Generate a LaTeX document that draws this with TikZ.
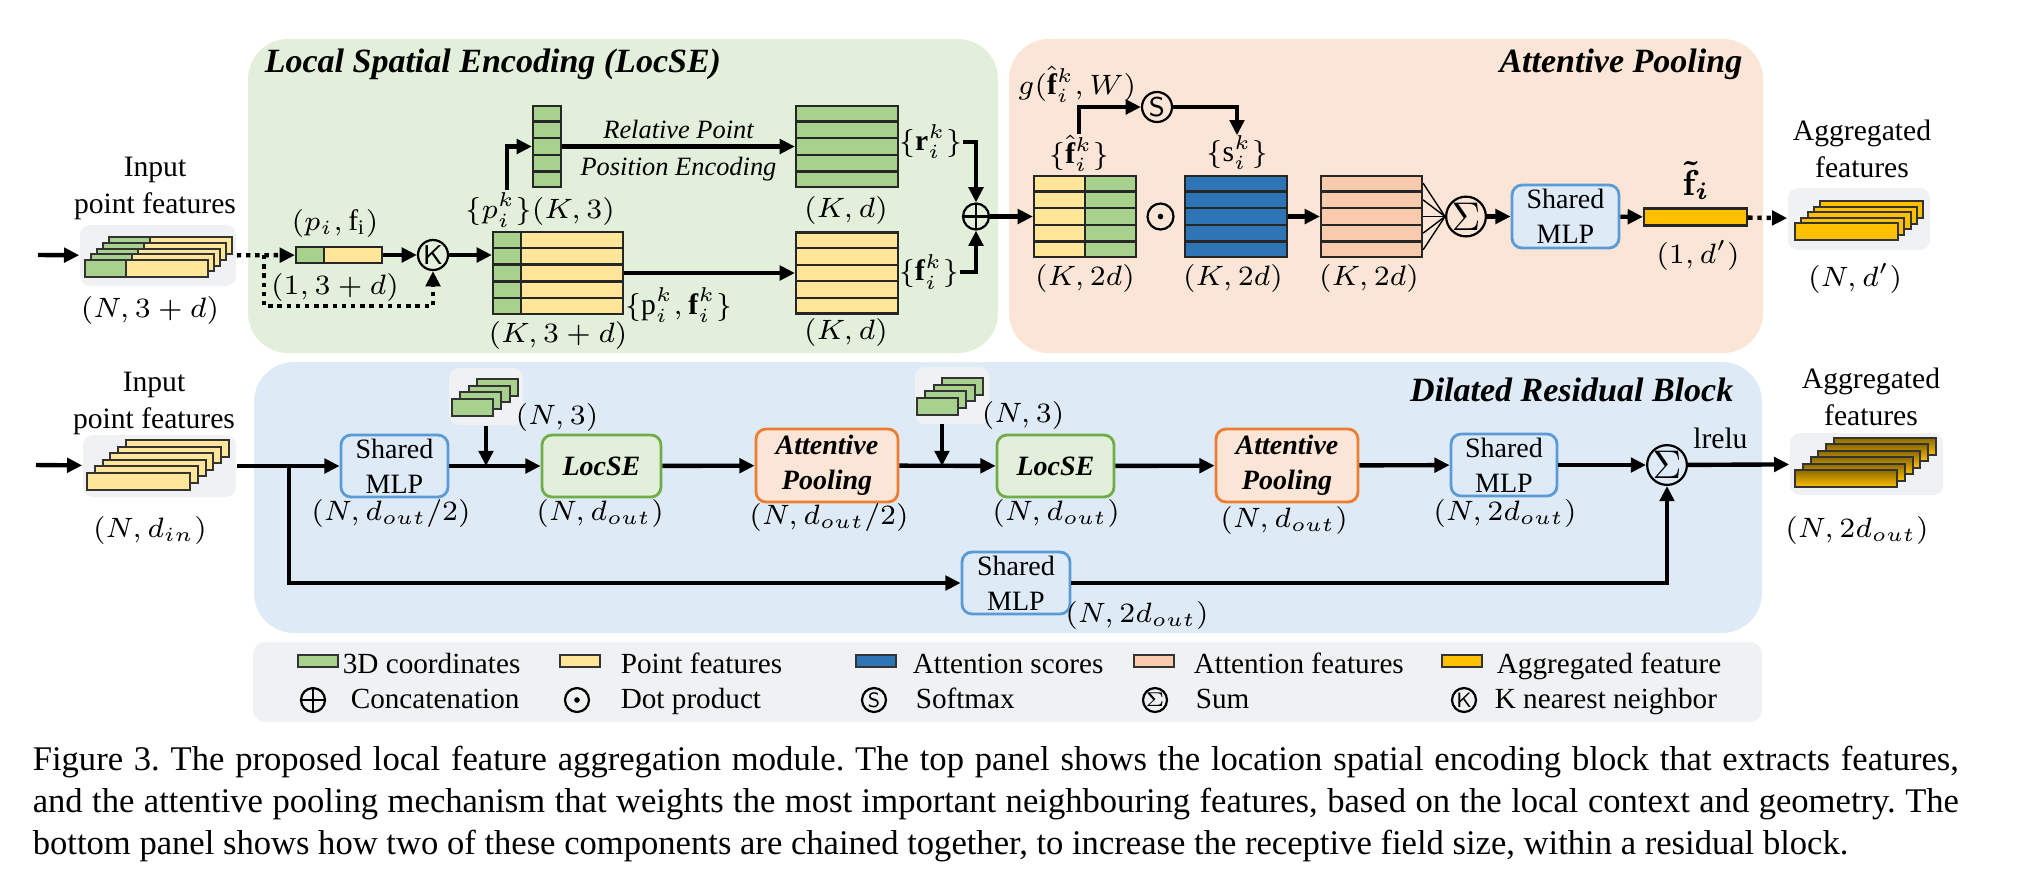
\documentclass[tikz,border=0pt]{standalone}
\usepackage{fontspec}
\setmainfont{Liberation Serif}
\usetikzlibrary{arrows.meta,calc}

\definecolor{crdgreen}{HTML}{A9D18E}
\definecolor{ptyellow}{HTML}{FFE699}
\definecolor{scoreblue}{HTML}{2E75B6}
\definecolor{attsalmon}{HTML}{F8CBAD}
\definecolor{agggold}{HTML}{FFC000}
\definecolor{lsebg}{HTML}{E2EFDA}
\definecolor{apbg}{HTML}{FBE5D6}
\definecolor{drbbg}{HTML}{DEEBF7}
\definecolor{greybg}{HTML}{F0F1F2}
\definecolor{mlpedge}{HTML}{5B9BD5}
\definecolor{lseedge}{HTML}{70AD47}
\definecolor{apedge}{HTML}{ED7D31}

\newcommand\lblfont{\fontsize{7.4}{9.25}\selectfont}
\newcommand\itlfont{\fontsize{6.6}{8}\selectfont\itshape}
\newcommand\boxfont{\fontsize{7}{8.75}\selectfont}
\newcommand\ttlfont{\fontsize{8.5}{10}\selectfont\bfseries\itshape}
\newcommand\legfont{\fontsize{7.3}{8}\selectfont}
\newcommand\capfont{\fontsize{8.65}{10.6}\selectfont\frenchspacing}
\newcommand\rowlines[1]{%
  \foreach \r in {1,...,4}
    \draw[rowline] ($(#1.north west)!\r/5!(#1.south west)$) -- ($(#1.north east)!\r/5!(#1.south east)$);}

\tikzset{
  wd/.style={minimum width=#1*0.25pt},
  ht/.style={minimum height=#1*0.25pt},
  panel/.style={rounded corners=10pt, inner sep=0pt},
  stackbg/.style={fill=greybg, rounded corners=2.5pt, inner sep=0pt},
  barline/.style={draw=black!80, line width=0.5pt},
  tbl/.style={draw=black!85, line width=0.55pt, inner sep=0pt},
  rowline/.style={draw=black!85, line width=0.55pt},
  lbl/.style={font=\lblfont, inner sep=0pt},
  ttl/.style={font=\ttlfont, inner sep=0pt},
  flow/.style={line width=1.1pt, -{Triangle[length=3.8pt,width=3.6pt]}},
  dotflow/.style={flow, dash pattern=on 1.1pt off 1.2pt},
  opc/.style={circle, draw, line width=0.55pt, inner sep=0pt, minimum size=7.5pt},
  plus/.style={opc, minimum size=6.5pt, path picture={\draw[line width=0.55pt]
    (path picture bounding box.north) -- (path picture bounding box.south)
    (path picture bounding box.west) -- (path picture bounding box.east);}},
  dotc/.style={opc, minimum size=6.5pt, path picture={\fill (path picture bounding box.center) circle (0.7pt);}},
  box/.style={draw=#1, line width=0.7pt, rounded corners=2.5pt, align=center, inner sep=0pt, font=\boxfont},
  mlp/.style={box=mlpedge, fill=drbbg},
  lse/.style={box=lseedge, fill=lsebg, font=\boxfont\bfseries\itshape},
  apl/.style={box=apedge, fill=apbg, font=\boxfont\bfseries\itshape},
  swatch/.style={draw=black!80, line width=0.5pt, inner sep=0pt, wd=40, ht=12},
  legtxt/.style={font=\legfont, inner sep=0pt, anchor=base west},
}

\begin{document}
\begin{tikzpicture}[x=0.25pt, y=-0.25pt]
\useasboundingbox (0,0) rectangle (2022,893);

% panels
\node[panel, fill=lsebg, wd=750, ht=314] (pse) at (623,196) {};
\node[panel, fill=apbg, wd=754, ht=314] (pap) at (1386,196) {};
\node[panel, fill=drbbg, wd=1508, ht=271] (pdrb) at (1008,497.5) {};
\node[panel, fill=greybg, rounded corners=3pt, wd=1509, ht=80] (leg) at (1007.5,682) {};
\node[ttl, anchor=base west] (tse) at (264,72) {Local Spatial Encoding (LocSE)};
\node[ttl, anchor=base east] (tap) at (1743,72) {Attentive Pooling};
\node[ttl, anchor=base east] (tdrb) at (1734,401) {Dilated Residual Block};

% ---- top: LocSE ----
\coordinate (in1) at (38,255);
\node[stackbg, wd=156, ht=61] (stk1) at (158,255.5) {};
\foreach \i in {0,...,4}{
  \draw[barline, fill=ptyellow] (109-6*\i,237+5.75*\i) rectangle ++(123,17);
  \draw[barline, fill=crdgreen] (109-6*\i,237+5.75*\i) rectangle ++(41,17);
}
\node[lbl, align=center] (l-in1) at (155,188.5) {Input\\point features};
\node[lbl] (l-n3d) at (150,310) {$(N,3+d)$};
\draw[flow] (in1) -- (stk1);

\node[tbl, fill=ptyellow, wd=86, ht=16] (pf) at (339,255) {};
\node[tbl, fill=crdgreen, wd=28, ht=16, anchor=west] (pfc) at (pf.west) {};
\node[lbl] (l-pf) at (335,223) {$(p_i,\mathrm{f}_\mathrm{i})$};
\node[lbl] (l-13d) at (335,287) {$(1,3+d)$};
\draw[dotflow] (stk1) -- (pf);
\node[opc, font=\sffamily\fontsize{6.8}{7}\selectfont] (knn) at (433,255) {K};
\draw[flow] (pf) -- (knn);
\coordinate (dsplit) at (264,255);
\draw[dotflow] (dsplit) -- ++(0,51) -| (knn);

\node[tbl, fill=ptyellow, wd=130, ht=82] (kt) at (558,273) {};
\node[tbl, fill=crdgreen, wd=28, ht=82, anchor=west] (ktc) at (kt.west) {};
\rowlines{kt}
\draw[flow] (knn) -- (knn -| kt.west);
\node[lbl] (l-k3d) at (558,335) {$(K,3+d)$};
\node[lbl, anchor=west] (l-pfk) at (624,305) {$\{\mathrm{p}_i^k,\mathbf{f}_i^k\}$};

\node[tbl, fill=crdgreen, wd=28, ht=81] (kp) at (547,146.5) {};
\rowlines{kp}
\node[lbl] (l-pk) at (540,210) {$\{p_i^k\}(K,3)$};
\coordinate (pkfoot) at (507,190);
\draw[flow] (pkfoot) |- (kp);

\node[tbl, fill=crdgreen, wd=102, ht=81] (kr) at (847,146.5) {};
\rowlines{kr}
\draw[flow] (kp) -- node[lbl, font=\itlfont, above=1.5pt] {Relative Point}
  node[lbl, font=\itlfont, below=2pt] {Position Encoding} (kr);
\node[tbl, fill=ptyellow, wd=102, ht=81] (kf) at (847,273) {};
\rowlines{kf}
\draw[flow] (kt) -- (kf);
\node[lbl] (l-kd1) at (846,210) {$(K,d)$};
\node[lbl] (l-kd2) at (846,332) {$(K,d)$};
\node[lbl, anchor=west] (l-rk) at (898,142) {$\{\mathbf{r}_i^k\}$};
\node[lbl, anchor=west] (l-fk) at (898,272) {$\{\mathbf{f}_i^k\}$};
\node[plus] (cat) at (976,216.5) {};
\draw[flow] (l-rk) -| (cat);
\draw[flow] (l-fk) -| (cat);

% ---- top: attentive pooling ----
\node[tbl, fill=ptyellow, wd=102, ht=81] (fh) at (1085,216.5) {};
\node[tbl, fill=crdgreen, wd=51, ht=81, anchor=east] (fhc) at (fh.east) {};
\rowlines{fh}
\draw[flow] (cat) -- (fh);
\node[lbl] (l-fh) at (1079,153) {$\{\hat{\mathbf{f}}_i^k\}$};
\node[lbl] (l-k2d1) at (1085,278) {$(K,2d)$};
\node[opc, font=\sffamily\fontsize{6.8}{7}\selectfont] (smax) at (1157,107) {S};
\node[lbl, anchor=east] (l-g) at (1137,84) {$g(\hat{\mathbf{f}}_i^k,W)$};
\draw[flow] (l-fh) |- (smax);
\node[lbl] (l-sk) at (1237,153) {$\{\mathrm{s}_i^k\}$};
\draw[flow] (smax) -| (l-sk);
\node[dotc] (dprod) at (1160.5,216.5) {};
\node[tbl, fill=scoreblue, wd=102, ht=81] (sc) at (1236,216.5) {};
\rowlines{sc}
\node[lbl] (l-k2d2) at (1233,278) {$(K,2d)$};
\node[tbl, fill=attsalmon, wd=101, ht=81] (af) at (1371.5,216.5) {};
\rowlines{af}
\node[lbl] (l-k2d3) at (1369,278) {$(K,2d)$};
\draw[flow] (sc) -- (af);
\node[opc] (sum1) at (1466,216.5) {$\Sigma$};
\foreach \r in {1,...,5}
  \draw[line width=0.35pt] ($(af.north east)!{(\r-0.5)/5}!(af.south east)$) -- (sum1.west);
\node[mlp, wd=107, ht=63] (mlpt) at (1565.5,216.5) {Shared\\MLP};
\draw[flow] (sum1) -- (mlpt);
\node[tbl, fill=agggold, wd=103, ht=17] (fout) at (1695.5,217) {};
\draw[flow] (mlpt) -- (fout);
\node[lbl, font=\fontsize{9}{10}\selectfont\boldmath] (l-ft) at (1696,180) {$\tilde{\mathbf{f}}_i$};
\node[lbl] (l-1d) at (1698,255) {$(1,d')$};
\node[stackbg, wd=142, ht=62] (stko) at (1859,219) {};
\foreach \i in {0,...,4}
  \draw[barline, fill=agggold] (1820-6.25*\i,201+5.5*\i) rectangle ++(103,17);
\draw[dotflow] (fout) -- (stko);
\node[lbl, align=center] (l-agg1) at (1862,149) {Aggregated\\features};
\node[lbl] (l-nd) at (1855,278) {$(N,d')$};

% ---- bottom: dilated residual block ----
\coordinate (in2) at (36,465);
\node[stackbg, wd=153, ht=62] (stk2) at (159.5,466) {};
\foreach \i in {0,...,5}
  \draw[barline, fill=ptyellow] (126-7.8*\i,440+6.6*\i) rectangle ++(103,16.5);
\node[lbl, align=center] (l-in2) at (154,403.5) {Input\\point features};
\node[lbl] (l-din) at (150,530) {$(N,d_{in})$};
\draw[flow] (in2) -- (stk2);

\node[mlp, wd=107, ht=62] (mlp1) at (394.5,466) {Shared\\MLP};
\draw[flow] (stk2) -- (mlp1);
\node[lbl] (l-m1) at (391,513) {$(N,d_{out}/2)$};
\node[stackbg, wd=74, ht=57] (crd1) at (486,396.5) {};
\foreach \i in {0,...,3}
  \draw[barline, fill=crdgreen] (477-8.3*\i,379+6.7*\i) rectangle ++(41,16.5);
\node[lbl] (l-c1) at (557,417) {$(N,3)$};
\node[lse, wd=119, ht=62] (lse1) at (601.5,466) {LocSE};
\draw[flow] (mlp1) -- (lse1);
\draw[flow] (crd1) -- (crd1 |- lse1.west);
\node[lbl] (l-s1) at (600,513) {$(N,d_{out})$};
\node[apl, wd=142, ht=73] (ap1) at (827,465.5) {Attentive\\Pooling};
\draw[flow] (lse1) -- (ap1);
\node[lbl] (l-a1) at (829,517) {$(N,d_{out}/2)$};

\node[stackbg, wd=74, ht=57] (crd2) at (952,395.5) {};
\foreach \i in {0,...,3}
  \draw[barline, fill=crdgreen] (942-8.3*\i,378+6.7*\i) rectangle ++(41,16.5);
\node[lbl] (l-c2) at (1023,415) {$(N,3)$};
\node[lse, wd=117, ht=62] (lse2) at (1055.5,466) {LocSE};
\draw[flow] (ap1) -- (lse2);
\coordinate (crd2foot) at (942,424);
\draw[flow] (crd2foot) -- (crd2foot |- lse2.west);
\node[lbl] (l-s2) at (1056,513) {$(N,d_{out})$};
\node[apl, wd=142, ht=73] (ap2) at (1287,465.5) {Attentive\\Pooling};
\draw[flow] (lse2) -- (ap2);
\node[lbl] (l-a2) at (1284,520) {$(N,d_{out})$};
\node[mlp, wd=106, ht=62] (mlp3) at (1504,465) {Shared\\MLP};
\draw[flow] (ap2) -- (mlp3);
\node[lbl] (l-m3) at (1505,513) {$(N,2d_{out})$};
\node[opc] (sum2) at (1667,465) {$\Sigma$};
\draw[flow] (mlp3) -- (sum2);

\coordinate (br) at (289,466);
\node[mlp, wd=108, ht=62] (mlp2) at (1016,583) {Shared\\MLP};
\draw[flow] (br) |- (mlp2);
\draw[flow] (mlp2) -| (sum2);
\node[lbl] (l-m2) at (1137,615) {$(N,2d_{out})$};

\node[stackbg, wd=153, ht=62] (stk3) at (1866.5,464) {};
\foreach \i in {0,...,5}
  \draw[barline, top color=agggold!55!black, bottom color=agggold] (1834-7.8*\i,438+6.4*\i) rectangle ++(102,17);
\draw[flow] (sum2) -- node[lbl, pos=0.32, above=3.4pt] {lrelu} (stk3);
\node[lbl, align=center] (l-agg2) at (1871,396.5) {Aggregated\\features};
\node[lbl] (l-n2d) at (1857,530) {$(N,2d_{out})$};

% ---- legend ----
\foreach \sx/\tx/\col/\txt [count=\n] in {318/342/crdgreen/3D coordinates, 580/620/ptyellow/Point features,
    876/912/scoreblue/Attention scores, 1154/1193/attsalmon/Attention features, 1462/1496/agggold/Aggregated feature}{
  \node[swatch, fill=\col] (sw\n) at (\sx,661) {};
  \node[legtxt] (st\n) at (\tx,673) {\txt};
}
\node[plus, minimum size=6pt] (lg-cat) at (313,700) {};
\node[legtxt] (lt-cat) at (350,708) {Concatenation};
\node[dotc, minimum size=6pt] (lg-dot) at (577,700) {};
\node[legtxt] (lt-dot) at (620,708) {Dot product};
\node[opc, minimum size=6pt, font=\sffamily\fontsize{5.2}{6}\selectfont] (lg-s) at (874,700) {S};
\node[legtxt] (lt-s) at (915,708) {Softmax};
\node[opc, minimum size=6pt, font=\fontsize{5.2}{6}\selectfont] (lg-sum) at (1155,700) {$\Sigma$};
\node[legtxt] (lt-sum) at (1195,708) {Sum};
\node[opc, minimum size=6pt, font=\sffamily\fontsize{5.2}{6}\selectfont] (lg-k) at (1464,700) {K};
\node[legtxt] (lt-k) at (1494,708) {K nearest neighbor};

% ---- caption ----
\node[anchor=north west, inner sep=0pt, text width=481.5pt, align=justify, font=\capfont] (cap) at (32,745)
  {Figure 3. The proposed local feature aggregation module. The top panel shows the location spatial encoding block that extracts features,\linebreak
  and the attentive pooling mechanism that weights the most important neighbouring features, based on the local context and geometry. The\linebreak
  bottom panel shows how two of these components are chained together, to increase the receptive field size, within a residual block.};
\end{tikzpicture}
\end{document}
